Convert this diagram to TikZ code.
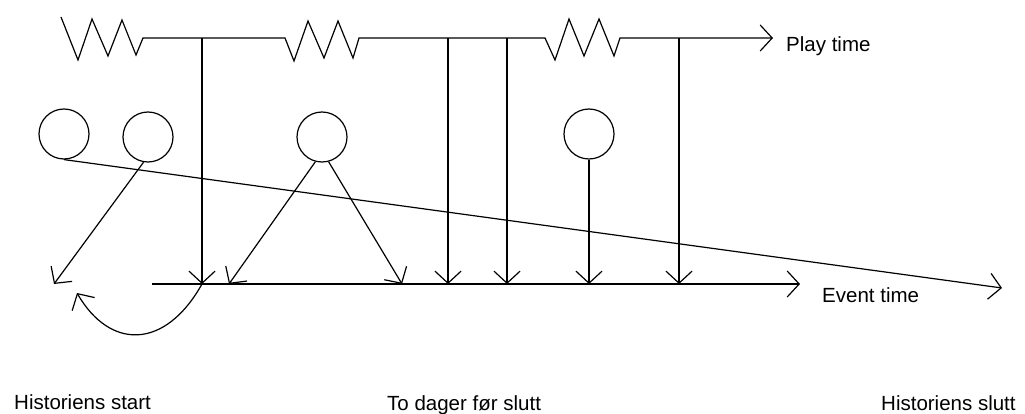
\documentclass[tikz,border=0pt]{standalone}
\usepackage{fontspec}
\setmainfont{Liberation Sans}
\usetikzlibrary{arrows.meta}
\begin{document}
\begin{tikzpicture}[x=1pt,y=-1pt,
  ln/.style={line width=1.2pt,line join=miter},
  arr/.style={ln,-{Straight Barb[length=12pt,width=26pt,line width=1.2pt]}},
  ring/.style={circle,draw,line width=1.2pt,minimum size=50pt,inner sep=0pt},
  lbl/.style={anchor=base west,inner sep=0pt,font=\fontsize{20.5}{24}\selectfont}]
\useasboundingbox (0,0) rectangle (1025,414);
% nodes
\node[ring] (c1) at (64,134) {};
\node[ring] (c2) at (148,137) {};
\node[ring] (c3) at (322,137) {};
\node[ring] (c4) at (589,134) {};
% coordinates on play time line
\coordinate (p1) at (202,38);
\coordinate (p2) at (448,38);
\coordinate (p3) at (507,38);
\coordinate (p4) at (679,38);
\coordinate (pend) at (773,38);
% coordinates on event time line
\coordinate (estart) at (152,284);
\coordinate (e1) at (202,284);
\coordinate (e2) at (448,284);
\coordinate (e3) at (507,284);
\coordinate (e4) at (679,284);
\coordinate (ec4) at (589,284);
\coordinate (ec3a) at (229,284);
\coordinate (ec3b) at (402,284);
\coordinate (eend) at (800,284);
\coordinate (ec2) at (54,284);
\coordinate (back) at (77,293);
\coordinate (dend) at (1002,288);
% play time line with zigzags
\draw[arr] (61,17)--(78,60)--(92,19)--(108,56)--(122,20)--(136,55)--(143,38)
  --(285,38)--(294,61)--(308,21)--(324,58)--(338,21)--(353,58)--(359,38)
  --(545,38)--(555,60)--(569,19)--(584,56)--(599,19)--(614,56)--(620,38)--(pend);
% event time line
\draw[arr] (estart) -- (eend);
% verticals
\draw[arr] (p1) -- (e1);
\draw[arr] (p2) -- (e2);
\draw[arr] (p3) -- (e3);
\draw[arr] (p4) -- (e4);
% circle connectors
\draw[arr] (c4.south) -- (ec4);
\draw[arr] (c2.260) -- (ec2);
\draw[arr] (c3.255) -- (ec3a);
\draw[arr] (c3.285) -- (ec3b);
% long diagonal
\draw[arr] (c1.south) -- (dend);
% curved back arrow
\draw[arr] (e1) .. controls (165,350) and (110,350) .. (back);
% labels
\node[lbl] (pt) at (786,52) {Play time};
\node[lbl] (et) at (822,302) {Event time};
\node[lbl] (hs) at (14,409) {Historiens start};
\node[lbl] (td) at (387,410) {To dager før slutt};
\node[lbl] (hsl) at (881,410) {Historiens slutt};
\end{tikzpicture}
\end{document}
